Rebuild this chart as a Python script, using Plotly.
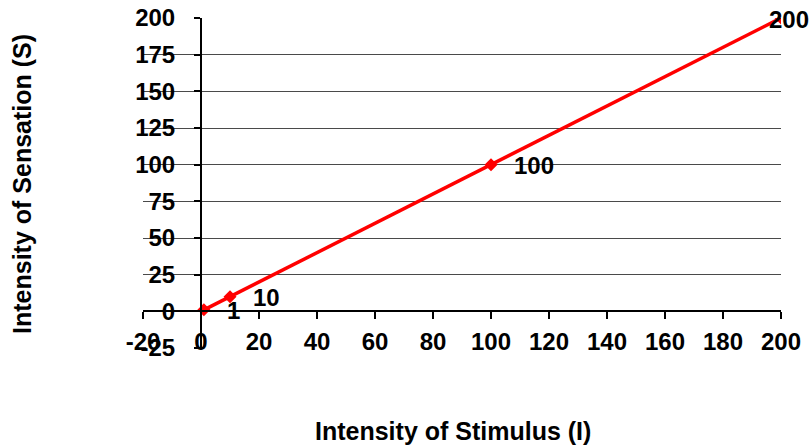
import plotly.graph_objects as go

# Stimulus intensity (I) and the sensation intensity (S) it produces
stimulus = [1, 10, 100, 200]
sensation = [1, 10, 100, 200]
point_labels = ["1", "10", "100", "200"]

x_ticks = [-20, 0, 20, 40, 60, 80, 100, 120, 140, 160, 180, 200]
x_tick_labels = ["-20", "0", "20", "40", "60", "80", "100", "120", "140", "160", "180", "200"]
y_ticks = [-25, 0, 25, 50, 75, 100, 125, 150, 175, 200]
y_tick_labels = ["-25", "0", "25", "50", "75", "100", "125", "150", "175", "200"]

x_range = [-20, 200]
y_range = [-25, 200]

FONT = "Liberation Sans, Arial, sans-serif"

fig = go.Figure()
fig.add_trace(go.Scatter(
    x=stimulus, y=sensation,
    mode="lines+markers",
    line=dict(color="#ff0000", width=3.5),
    marker=dict(symbol="diamond", size=10, color="#ff0000"),
    hoverinfo="skip",
    showlegend=False,
))

# Value labels beside each point; the last one is pulled back inside the plot edge
for i, (xv, yv, txt) in enumerate(zip(stimulus, sensation, point_labels)):
    last = i == len(stimulus) - 1
    fig.add_annotation(
        x=xv, y=yv, text=txt, showarrow=False,
        xanchor="left", yanchor="middle",
        xshift=-14 if last else 21, yshift=-1,
        font=dict(family=FONT, size=24, color="black", weight="bold"),
    )

fig.add_annotation(
    xref="paper", yref="paper", x=0.486, y=-0.2515,
    text="Intensity of Stimulus (I)", showarrow=False,
    xanchor="center", yanchor="middle",
    font=dict(family=FONT, size=25, color="black", weight="bold"),
)
fig.add_annotation(
    xref="paper", yref="paper", x=-0.1897, y=0.497,
    text="Intensity of Sensation (S)", showarrow=False, textangle=-90,
    xanchor="center", yanchor="middle",
    font=dict(family=FONT, size=25, color="black", weight="bold"),
)

tick_font = dict(family=FONT, size=24, color="black", weight="bold")

fig.update_layout(
    width=812, height=445,
    margin=dict(l=143, r=31, t=18, b=97, autoexpand=False),
    paper_bgcolor="white", plot_bgcolor="white",
    xaxis=dict(
        range=x_range, tickmode="array", tickvals=x_ticks, ticktext=x_tick_labels,
        showgrid=False, zeroline=False,
        showline=True, linecolor="black", linewidth=2,
        ticks="outside", ticklen=7, tickwidth=1.5, tickcolor="black",
        tickfont=tick_font, ticklabelstandoff=2,
        automargin=False,
        anchor="free",
        position=(0 - y_range[0]) / (y_range[1] - y_range[0]),
    ),
    yaxis=dict(
        range=y_range, tickmode="array", tickvals=y_ticks, ticktext=y_tick_labels,
        showgrid=True, gridcolor="#4a4a4a", gridwidth=1.3,
        zeroline=False,
        showline=True, linecolor="black", linewidth=2,
        ticks="outside", ticklen=6, tickwidth=1.5, tickcolor="black",
        tickfont=tick_font, ticklabelstandoff=14,
        automargin=False,
        anchor="free",
        position=(0 - x_range[0]) / (x_range[1] - x_range[0]),
    ),
)

fig.write_html("out.html")
